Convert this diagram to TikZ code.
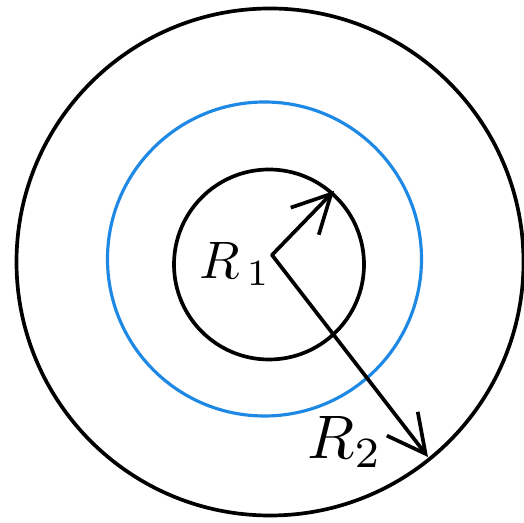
\documentclass[tikz,border=0pt]{standalone}
\usepackage{amsmath}
\usepackage{tikz}
\usetikzlibrary{arrows.meta,positioning}
\usepackage{xcolor}

\definecolor{shellblue}{RGB}{30,136,229}

\begin{document}
\begin{tikzpicture}[
  ring/.style={circle, draw=black, line width=2.1pt, inner sep=0pt},
  midring/.style={circle, draw=shellblue, line width=1.8pt, inner sep=0pt},
  radius arrow/.style={line width=2.1pt, line cap=round,
                       -{Straight Barb[length=0.76cm, width=0.78cm, line width=2.1pt]}},
  radlabel/.style={inner sep=0pt}
]
\useasboundingbox (0,0) rectangle (10.48,10.46);

% Circles
\node[ring, minimum size=10.14cm] (outer) at (5.40,5.22) {};
\node[midring, minimum size=6.28cm] (middle) at (5.29,5.28) {};
\node[ring, minimum size=3.80cm] (inner) at (5.38,5.17) {};

% Arrow ends
\coordinate (o) at (5.44,5.36);
\coordinate (tip1) at (6.68,6.64);
\coordinate (tip2) at (8.56,1.32);

% Radii
\draw[radius arrow] (o) -- (tip1);
\draw[radius arrow] (o) -- (tip2);

% Labels
\node[radlabel, scale=3] (r1) at (4.70,5.18) {$R_{\,1}$};
\node[radlabel, scale=3.5] (r2) at (6.90,1.62) {$R_{2}$};

\end{tikzpicture}
\end{document}
